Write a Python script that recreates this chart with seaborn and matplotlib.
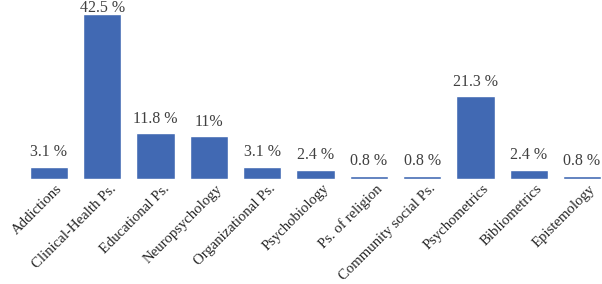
import matplotlib
matplotlib.use("Agg")
import matplotlib.pyplot as plt
import matplotlib.transforms as mtransforms
import seaborn as sns
import pandas as pd

categories = ["Addictions", "Clinical-Health Ps.", "Educational Ps.", "Neuropsychology",
              "Organizational Ps.", "Psychobiology", "Ps. of religion", "Community social Ps.",
              "Psychometrics", "Bibliometrics", "Epistemology"]
values = [3.1, 42.5, 11.8, 11.0, 3.1, 2.4, 0.8, 0.8, 21.3, 2.4, 0.8]
value_labels = ["3.1 %", "42.5 %", "11.8 %", "11%", "3.1 %", "2.4 %", "0.8 %", "0.8 %",
                "21.3 %", "2.4 %", "0.8 %"]

df = pd.DataFrame({"cat": categories, "val": values})

sns.set_theme(style="white")
plt.rcParams["font.family"] = ["Liberation Serif", "DejaVu Serif"]

fig = plt.figure(figsize=(6.02, 2.84), dpi=100)
ax = fig.add_axes([22.3 / 602, (284 - 179) / 284, 580 / 602, 179 / 284])
sns.barplot(data=df, x="cat", y="val", color="#4169B3", saturation=1, width=0.72, ax=ax)
ax.set_xlim(-0.5, 10.38)
ytop = 42.5 * 179 / 165
ax.set_ylim(0, ytop)
for i, (v, lab) in enumerate(zip(values, value_labels)):
    if v + 1.7 + 3.2 > ytop:
        ax.text(i, ytop + 0.1, lab, ha="center", va="top", fontsize=11.5, color="#404040",
                clip_on=False)
    else:
        ax.text(i, v + 1.7, lab, ha="center", va="bottom", fontsize=11.5, color="#404040")
ax.set_xlabel("")
ax.set_ylabel("")
ax.set_yticks([])
ax.tick_params(axis="x", length=0, pad=3)
offset = mtransforms.ScaledTranslation(7 / 100, 1 / 100, fig.dpi_scale_trans)
for lbl in ax.get_xticklabels():
    lbl.set_rotation(45)
    lbl.set_ha("right")
    lbl.set_rotation_mode("anchor")
    lbl.set_fontsize(10.6)
    lbl.set_color("#262626")
    lbl.set_transform(lbl.get_transform() + offset)
for s in ax.spines.values():
    s.set_visible(False)
fig.savefig("out.png", dpi=100)
